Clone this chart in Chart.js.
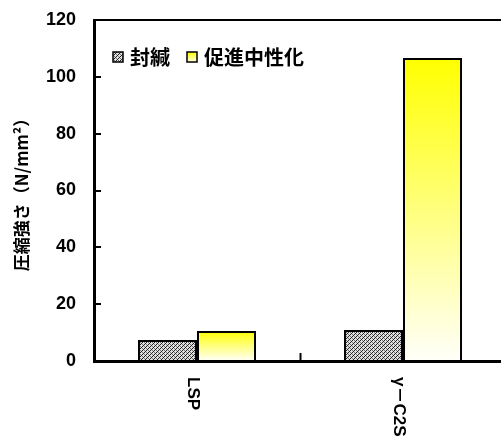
<!DOCTYPE html>
<meta charset="utf-8">
<html>
  <head>
    <script src="https://cdn.jsdelivr.net/npm/chart.js"></script>
    <style>
      body { margin: 0; overflow: hidden; background: #fff; }
      #wrap { width: 512px; height: 448px; }
    </style>
  </head>
  <body>
    <div id="wrap"><canvas id="chart"></canvas></div>

  <script>
    // data
    const categories = ['LSP', 'γ－C2S'];
    const sealedValues = [7.4, 10.9];       // 封緘
    const carbonatedValues = [10.6, 106.6]; // 促進中性化
    const seriesNames = ['封緘', '促進中性化'];
    const yTitle = '圧縮強さ（N/mm²）';

    const jpFont = '"Noto Sans CJK JP", sans-serif';
    const numFont = '"Liberation Sans", Arial, "Noto Sans CJK JP", sans-serif';

    // dotted grey hatch used by the 封緘 bars
    function makeHatch() {
      const c = document.createElement('canvas');
      c.width = 4; c.height = 4;
      const g = c.getContext('2d');
      g.fillStyle = '#e0e0e0';
      g.fillRect(0, 0, 4, 4);
      for (let y = 0; y < 4; y++) {
        for (let x = 0; x < 4; x++) {
          if ((x + y) % 4 === 0) { g.fillStyle = '#222'; g.fillRect(x, y, 1, 1); }
          else if ((x + y) % 4 === 2 && x % 2 === 0) { g.fillStyle = '#777'; g.fillRect(x, y, 1, 1); }
        }
      }
      return g.createPattern(c, 'repeat');
    }
    const hatch = makeHatch();

    // yellow on top, fading to white at the base of each bar
    function yellowFade(context) {
      const chart = context.chart;
      const y = chart.scales.y;
      if (!y || context.raw === undefined) return '#ffff00';
      const top = y.getPixelForValue(context.raw);
      const base = y.getPixelForValue(0);
      if (!isFinite(top) || !isFinite(base) || top === base) return '#ffff00';
      const grad = chart.ctx.createLinearGradient(0, top, 0, base);
      grad.addColorStop(0, '#ffff00');
      grad.addColorStop(1, '#fffffa');
      return grad;
    }

    // legend drawn inside the plot, top left
    const innerLegend = {
      id: 'innerLegend',
      afterDraw(chart) {
        const ctx = chart.ctx;
        const area = chart.chartArea;
        const cy = area.top + 37;
        const items = [
          { fill: hatch, name: seriesNames[0], x: area.left + 19 },
          { fill: null, name: seriesNames[1], x: area.left + 93 }
        ];
        ctx.save();
        ctx.font = 'bold 20px ' + jpFont;
        ctx.textBaseline = 'middle';
        for (const it of items) {
          if (it.fill) {
            ctx.fillStyle = it.fill;
          } else {
            const g = ctx.createLinearGradient(0, cy - 5, 0, cy + 5);
            g.addColorStop(0, '#ffff00');
            g.addColorStop(1, '#ffffe0');
            ctx.fillStyle = g;
          }
          ctx.fillRect(it.x, cy - 5, 10, 10);
          ctx.strokeStyle = '#000';
          ctx.lineWidth = 1.5;
          ctx.strokeRect(it.x, cy - 5, 10, 10);
          ctx.fillStyle = '#000';
          ctx.fillText(it.name, it.x + 17, cy);
        }
        ctx.restore();
      }
    };

    // category labels rotated clockwise, reading downwards
    const downLabels = {
      id: 'downLabels',
      afterDraw(chart) {
        const ctx = chart.ctx;
        const x = chart.scales.x;
        ctx.save();
        ctx.font = 'bold 17px ' + numFont;
        ctx.fillStyle = '#000';
        ctx.textAlign = 'left';
        ctx.textBaseline = 'middle';
        categories.forEach(function(label, i) {
          const px = x.getPixelForValue(i) - 4;
          ctx.save();
          ctx.translate(px, x.top + 16);
          ctx.rotate(Math.PI / 2);
          ctx.fillText(label, 0, 0);
          ctx.restore();
        });
        ctx.restore();
      }
    };

    const config = {
      type: 'bar',
      data: {
        labels: categories,
        datasets: [
          {
            label: seriesNames[0],
            data: sealedValues,
            backgroundColor: hatch,
            borderColor: '#000',
            borderWidth: 2,
            categoryPercentage: 0.573,
            barPercentage: 1
          },
          {
            label: seriesNames[1],
            data: carbonatedValues,
            backgroundColor: yellowFade,
            borderColor: '#000',
            borderWidth: 2,
            categoryPercentage: 0.573,
            barPercentage: 1
          }
        ]
      },
      options: {
        responsive: true,
        maintainAspectRatio: false,
        animation: false,
        layout: { padding: { top: 20, right: 6, left: 0, bottom: 0 } },
        plugins: {
          legend: { display: false },
          tooltip: { enabled: false }
        },
        scales: {
          x: {
            afterFit: function(scale) {
              scale.height = 87;
              scale.paddingLeft = 0;
              scale.paddingRight = 0;
            },
            border: { display: true, color: '#000', width: 3 },
            grid: {
              offset: true,
              drawOnChartArea: false,
              drawTicks: true,
              tickLength: -8,
              tickWidth: 2,
              tickColor: '#000'
            },
            ticks: { display: false }
          },
          y: {
            min: 0,
            max: 120,
            afterFit: function(scale) {
              scale.width = 94;
              scale.paddingTop = 0;
              scale.paddingBottom = 0;
            },
            border: { display: true, color: '#000', width: 3 },
            grid: {
              drawTicks: true,
              tickLength: -7,
              lineWidth: 2,
              tickWidth: 2,
              color: function(c) { return c.tick && c.tick.value === 120 ? '#000' : 'rgba(0,0,0,0)'; },
              tickColor: function(c) { return c.tick && (c.tick.value === 0 || c.tick.value === 120) ? 'rgba(0,0,0,0)' : '#000'; }
            },
            ticks: {
              stepSize: 20,
              padding: 25,
              color: '#000',
              font: { family: numFont, size: 18, weight: 'bold' }
            },
            title: {
              display: true,
              text: yTitle,
              color: '#000',
              padding: { top: 11, bottom: 0 },
              font: { family: jpFont, size: 17, weight: 'bold' }
            }
          }
        }
      },
      plugins: [innerLegend, downLabels]
    };

    new Chart(document.getElementById('chart'), config);
  </script>
  </body>
</html>
